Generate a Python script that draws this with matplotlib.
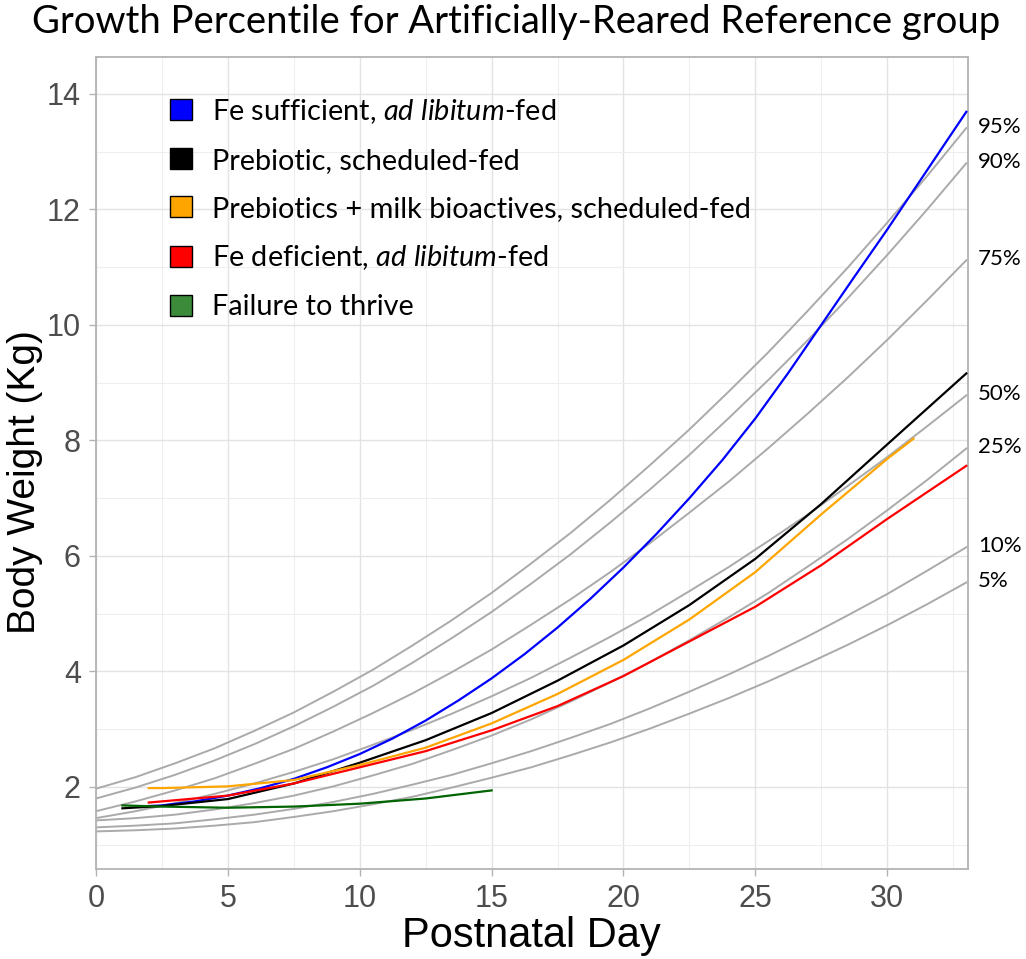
import matplotlib
matplotlib.use("Agg")
import matplotlib.pyplot as plt
from matplotlib.patches import Patch
from matplotlib.ticker import MultipleLocator

plt.rcParams['mathtext.fontset'] = 'custom'
plt.rcParams['mathtext.rm'] = 'Lato'
plt.rcParams['mathtext.it'] = 'Lato:italic'

# reference percentile curves
pct_days = [0, 1.5, 3, 4.5, 6, 7.5, 9, 10.5, 12, 13.5, 15, 16.5, 18, 19.5,
            21, 22.5, 24, 25.5, 27, 28.5, 30, 31.5, 33]
pct_names = ['95%', '90%', '75%', '50%', '25%', '10%', '5%']
p95 = [1.97, 2.17, 2.41, 2.67, 2.97, 3.29, 3.65, 4.03, 4.45, 4.89, 5.36, 5.87,
       6.40, 6.97, 7.57, 8.19, 8.85, 9.53, 10.25, 10.99, 11.77, 12.57, 13.41]
p90 = [1.80, 1.99, 2.21, 2.46, 2.74, 3.05, 3.39, 3.75, 4.15, 4.58, 5.03, 5.52,
       6.03, 6.58, 7.15, 7.75, 8.39, 9.05, 9.74, 10.46, 11.21, 11.99, 12.80]
p75 = [1.58, 1.75, 1.94, 2.15, 2.40, 2.66, 2.96, 3.28, 3.62, 3.99, 4.38, 4.81,
       5.25, 5.72, 6.22, 6.75, 7.29, 7.87, 8.47, 9.09, 9.74, 10.42, 11.12]
p50 = [1.46, 1.58, 1.72, 1.88, 2.06, 2.26, 2.48, 2.73, 2.99, 3.27, 3.57, 3.89,
       4.24, 4.60, 4.98, 5.39, 5.81, 6.26, 6.72, 7.21, 7.71, 8.24, 8.78]
p25 = [1.42, 1.46, 1.52, 1.61, 1.72, 1.85, 2.01, 2.20, 2.40, 2.64, 2.89, 3.17,
       3.48, 3.81, 4.16, 4.54, 4.94, 5.36, 5.82, 6.29, 6.79, 7.31, 7.86]
p10 = [1.30, 1.33, 1.37, 1.44, 1.52, 1.62, 1.74, 1.88, 2.04, 2.21, 2.41, 2.62,
       2.85, 3.09, 3.36, 3.65, 3.95, 4.27, 4.61, 4.97, 5.34, 5.74, 6.15]
p05 = [1.23, 1.25, 1.28, 1.33, 1.39, 1.48, 1.58, 1.70, 1.83, 1.99, 2.16, 2.34,
       2.55, 2.77, 3.01, 3.27, 3.54, 3.83, 4.14, 4.46, 4.80, 5.16, 5.54]
percentiles = [p95, p90, p75, p50, p25, p10, p05]

# group growth curves
blue_days = [2, 2.5, 3.75, 5, 6.25, 7.5, 8.75, 10, 11.25, 12.5, 13.75, 15, 16.25,
             17.5, 18.75, 20, 21.25, 22.5, 23.75, 25, 26.25, 27.5, 28.75, 30, 31.5, 33]
blue_kg = [1.67, 1.68, 1.75, 1.85, 1.98, 2.14, 2.34, 2.57, 2.84, 3.15, 3.50, 3.88, 4.30,
           4.76, 5.26, 5.80, 6.38, 7.00, 7.66, 8.38, 9.17, 10.00, 10.83, 11.65, 12.67, 13.69]
black_days = [1, 2.5, 5, 7.5, 10, 12.5, 15, 17.5, 20, 22.5, 25, 27.5, 30, 33]
black_kg = [1.63, 1.67, 1.79, 2.06, 2.42, 2.81, 3.28, 3.84, 4.45, 5.15, 5.95, 6.90, 7.93, 9.16]
orange_days = [2, 2.5, 5, 7.5, 10, 12.5, 15, 17.5, 20, 22.5, 25, 27.5, 30, 31]
orange_kg = [1.98, 1.98, 2.01, 2.12, 2.38, 2.68, 3.10, 3.61, 4.20, 4.90, 5.72, 6.72, 7.68, 8.03]
red_days = [2, 2.5, 5, 7.5, 10, 12.5, 15, 17.5, 20, 22.5, 25, 27.5, 30, 33]
red_kg = [1.73, 1.75, 1.85, 2.06, 2.34, 2.62, 2.98, 3.40, 3.92, 4.52, 5.12, 5.84, 6.64, 7.56]
green_days = [1, 2.5, 5, 7.5, 10, 12.5, 15]
green_kg = [1.68, 1.66, 1.64, 1.66, 1.71, 1.80, 1.94]

legend_labels = [r'Fe sufficient, $\mathit{ad\ libitum}$-fed',
                 'Prebiotic, scheduled-fed',
                 'Prebiotics + milk bioactives, scheduled-fed',
                 r'Fe deficient, $\mathit{ad\ libitum}$-fed',
                 'Failure to thrive']
legend_colors = ['#0000ff', '#000000', '#ffa500', '#ff0000', '#3b8b3b']

fig = plt.figure(figsize=(10.26, 9.59), dpi=100)
ax = fig.add_axes([0.0936, 0.0939, 0.85, 0.8467])

for vals in percentiles:
    ax.plot(pct_days, vals, color='#aaaaaa', lw=1.4, zorder=2)

ax.plot(blue_days, blue_kg, color='#0000ff', lw=1.6, zorder=3)
ax.plot(black_days, black_kg, color='#000000', lw=1.6, zorder=4)
ax.plot(orange_days, orange_kg, color='#ffa500', lw=1.6, zorder=4)
ax.plot(red_days, red_kg, color='#ff0000', lw=1.6, zorder=4)
ax.plot(green_days, green_kg, color='#006400', lw=1.6, zorder=4)

ax.set_xlim(0, 33.07)
ax.set_ylim(0.58, 14.64)
ax.xaxis.set_major_locator(MultipleLocator(5))
ax.xaxis.set_minor_locator(MultipleLocator(2.5))
ax.yaxis.set_major_locator(MultipleLocator(2))
ax.yaxis.set_minor_locator(MultipleLocator(1))
ax.set_yticks([2, 4, 6, 8, 10, 12, 14])
ax.grid(which='major', color='#e3e3e3', lw=1.0, zorder=0)
ax.grid(which='minor', color='#eeeeee', lw=0.8, zorder=0)
ax.set_axisbelow(True)
for s in ax.spines.values():
    s.set_color('#b3b3b3')
    s.set_linewidth(1.3)
ax.tick_params(which='major', length=5, width=1.0, color='#b3b3b3',
               labelsize=22, labelcolor='#4d4d4d', pad=6)
ax.tick_params(which='minor', length=0)
for lab in ax.get_xticklabels() + ax.get_yticklabels():
    lab.set_fontfamily('Liberation Sans')

# percentile labels at the right edge
for name, vals in zip(pct_names, percentiles):
    ax.text(1.011, vals[-1] + 0.02, name, transform=ax.get_yaxis_transform(),
            ha='left', va='center', fontsize=16, family='Lato', clip_on=False)

handles = [Patch(facecolor=c, edgecolor='black', lw=1.0) for c in legend_colors]
leg = ax.legend(handles, legend_labels, loc='upper left',
                bbox_to_anchor=(0.055, 0.983), frameon=False,
                prop={'family': 'Lato', 'size': 20.8}, handlelength=0.75,
                handleheight=0.75, handletextpad=0.7, labelspacing=0.76)

fig.text(0.503, 0.977, 'Growth Percentile for Artificially-Reared Reference group',
         ha='center', va='center', fontsize=27.5, family='Lato')
fig.text(0.518, 0.024, 'Postnatal Day', ha='center', va='center',
         fontsize=30, family='Liberation Sans')
fig.text(0.024, 0.497, 'Body Weight (Kg)', ha='center', va='center',
         rotation=90, fontsize=28, family='Liberation Sans')

fig.savefig('out.png', dpi=100)
